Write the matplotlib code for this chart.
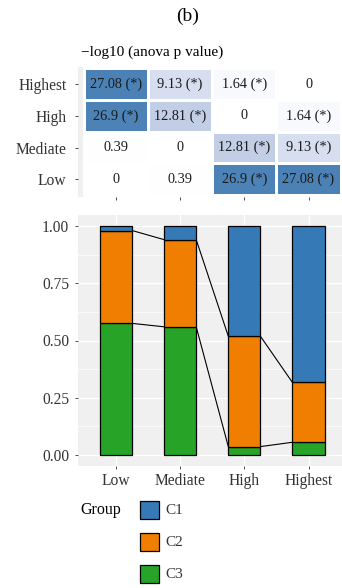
import numpy as np
import matplotlib
matplotlib.use("Agg")
import matplotlib.pyplot as plt
from matplotlib.colors import LinearSegmentedColormap
from matplotlib.patches import Rectangle

plt.rcParams["font.family"] = ["Liberation Serif", "DejaVu Serif"]

levels = ["Low", "Mediate", "High", "Highest"]
groups = ["C1", "C2", "C3"]
group_colors = ["#3579b6", "#f07e00", "#27a427"]

# proportion of each group inside every level
c1 = [0.018, 0.058, 0.481, 0.684]
c2 = [0.407, 0.382, 0.484, 0.262]
c3 = [0.575, 0.560, 0.035, 0.054]

# -log10 anova p values between levels (row = level, col = level)
neglogp = [
    [0, 0.39, 26.9, 27.08],
    [0.39, 0, 12.81, 9.13],
    [26.9, 12.81, 0, 1.64],
    [27.08, 9.13, 1.64, 0],
]
sig_cut = -np.log10(0.05)

W, H = 342, 588
fig = plt.figure(figsize=(W / 100, H / 100), dpi=100)

def box(left, top, right, bottom):
    return [left / W, 1 - bottom / H, (right - left) / W, (bottom - top) / H]

bg = "#f0f0f0"
tick_col = "#333333"

# ---- heatmap of p values ----
axh = fig.add_axes(box(77.5, 66.6, 347.0, 196.9))
axh.set_facecolor(bg)
vals = np.array(neglogp)
vmax = vals.max()
cmap = LinearSegmentedColormap.from_list(
    "pv", [(0, "#ffffff"), (1.64 / vmax, "#f8f9fc"), (9.13 / vmax, "#d6def0"),
           (12.81 / vmax, "#c1cee6"), (1, "#4c81b6")])
edges = np.arange(0.5, 5.0, 1.0)
axh.pcolormesh(edges, edges, vals, cmap=cmap, vmin=0, vmax=vmax,
               edgecolors="white", linewidth=1.0, zorder=2)
for r in range(4):
    for c in range(4):
        v = vals[r, c]
        lab = f"{v:g}" + (" (*)" if v > sig_cut else "")
        axh.text(c + 1, r + 1, lab, ha="center", va="center",
                 fontsize=10.3, color="#1a1a1a", zorder=3)
axh.set_xlim(0.4, 4.6)
axh.set_ylim(0.44, 4.56)
axh.set_xticks(range(1, 5))
axh.set_xticklabels([])
axh.set_yticks(range(1, 5))
axh.set_yticklabels(levels, fontsize=11.2, color=tick_col)
axh.grid(axis="x", color="white", linewidth=1.0, zorder=0)
axh.set_axisbelow(True)
for s in axh.spines.values():
    s.set_visible(False)
axh.tick_params(length=2.0, width=0.6, color=tick_col, pad=6)

# ---- stacked proportions ----
axb = fig.add_axes(box(77.5, 215.0, 347.0, 466.0))
axb.set_facecolor(bg)
x = np.arange(1, 5)
b3 = np.array(c3)
b2 = b3 + np.array(c2)
axb.bar(x, c3, width=0.5, color=group_colors[2], edgecolor="black", linewidth=0.9, zorder=3)
axb.bar(x, c2, width=0.5, bottom=b3, color=group_colors[1], edgecolor="black", linewidth=0.9, zorder=3)
axb.bar(x, c1, width=0.5, bottom=b2, color=group_colors[0], edgecolor="black", linewidth=0.9, zorder=3)
for top in (b3, b2):
    for i in range(3):
        axb.plot([x[i] + 0.25, x[i + 1] - 0.25], [top[i], top[i + 1]],
                 color="black", linewidth=0.8, zorder=2)
axb.set_xlim(0.4, 4.6)
axb.set_ylim(-0.05, 1.05)
axb.set_xticks(x)
axb.set_xticklabels(levels, fontsize=11.2, color=tick_col)
axb.set_yticks([0, 0.25, 0.5, 0.75, 1.0])
axb.set_yticklabels(["0.00", "0.25", "0.50", "0.75", "1.00"], fontsize=11.2, color=tick_col)
axb.set_yticks([0.125, 0.375, 0.625, 0.875], minor=True)
axb.grid(which="major", color="white", linewidth=1.0, zorder=0)
axb.grid(which="minor", axis="y", color="white", linewidth=0.5, zorder=0)
axb.set_axisbelow(True)
for s in axb.spines.values():
    s.set_visible(False)
axb.tick_params(length=2.0, width=0.6, color=tick_col, pad=4)
axb.tick_params(axis="x", pad=3)
axb.tick_params(which="minor", length=0)

# ---- titles and legend on a pixel overlay ----
ov = fig.add_axes([0, 0, 1, 1], zorder=5)
ov.set_xlim(0, W)
ov.set_ylim(H, 0)
ov.axis("off")
ov.text(188, 16, "(b)", ha="center", va="center", fontsize=14, color="black")
ov.text(81, 52, "\u2212log10 (anova p value)", ha="left", va="center", fontsize=11, color="black")
ov.text(80, 510, "Group", ha="left", va="center", fontsize=11.5, color="black")
for k, (g, col) in enumerate(zip(groups, group_colors)):
    yc = 510 + 32 * k
    ov.add_patch(Rectangle((139.5, yc - 9.3), 19, 18.6, facecolor=col,
                           edgecolor="black", linewidth=0.9))
    ov.text(165, yc + 1, g, ha="left", va="center", fontsize=11, color=tick_col)

fig.savefig("out.png", dpi=100)
